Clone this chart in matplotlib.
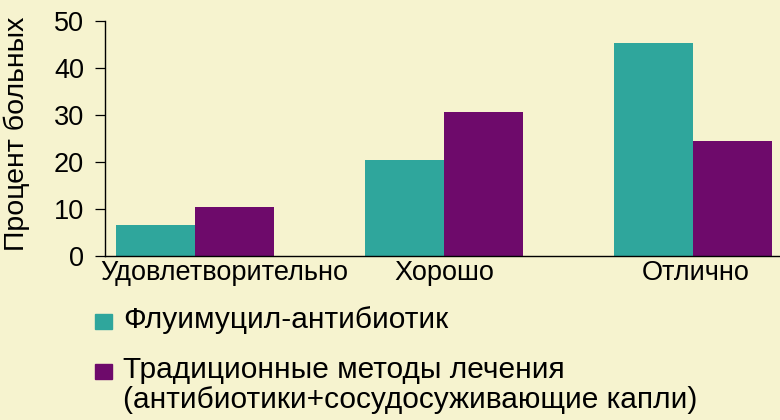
import matplotlib
matplotlib.use("Agg")
import matplotlib.pyplot as plt
import numpy as np
from matplotlib.patches import Rectangle

# data
categories = ['Удовлетворительно', 'Хорошо', 'Отлично']
fluimucil = [6.5, 20.3, 45.3]
traditional = [10.5, 30.5, 24.5]
series_names = ['Флуимуцил-антибиотик',
                'Традиционные методы лечения\n(антибиотики+сосудосуживающие капли)']

teal = '#2fa69c'
purple = '#6e0a6b'
bg = '#f6f3cf'

plt.rcParams['font.family'] = ['Liberation Sans', 'DejaVu Sans']

fig = plt.figure(figsize=(7.8, 4.2), dpi=100, facecolor=bg)
ax = fig.add_axes([0.1346, 0.3905, 0.8654, 0.5602])
ax.set_facecolor(bg)

x = np.arange(len(categories))
w = 0.317
ax.bar(x - w / 2, fluimucil, w, color=teal)
ax.bar(x + w / 2, traditional, w, color=purple)

ax.set_xlim(-0.361, 2.35)
ax.set_ylim(0, 50)
ax.set_yticks([0, 10, 20, 30, 40, 50])
ax.tick_params(axis='y', labelsize=19.5, length=7, width=0.9, pad=8)
ax.set_xticks(x + np.array([0.12, 0.0, 0.01]))
ax.set_xticklabels(categories, fontsize=19.5)
ax.tick_params(axis='x', length=0, pad=3)
for s in ['top', 'right']:
    ax.spines[s].set_visible(False)
ax.spines['left'].set_linewidth(1.0)
ax.spines['bottom'].set_linewidth(1.0)
ax.set_ylabel('Процент больных', fontsize=20.5, ha='center', va='center')
ax.yaxis.set_label_coords((17 - 105) / 675, 0.518)

# legend below the chart
rows = [(teal, series_names[0].split('\n'), 0.219),
        (purple, series_names[1].split('\n'), 0.100)]
for col, lines, base in rows:
    fig.patches.append(Rectangle((0.1218, base - 0.002), 0.0218, 0.0357,
                                 transform=fig.transFigure, color=col))
    for i, line in enumerate(lines):
        fig.text(0.1577, base - i * 0.0714, line, fontsize=21.5,
                 va='baseline', ha='left')

fig.savefig('out.png', dpi=100, facecolor=bg)
